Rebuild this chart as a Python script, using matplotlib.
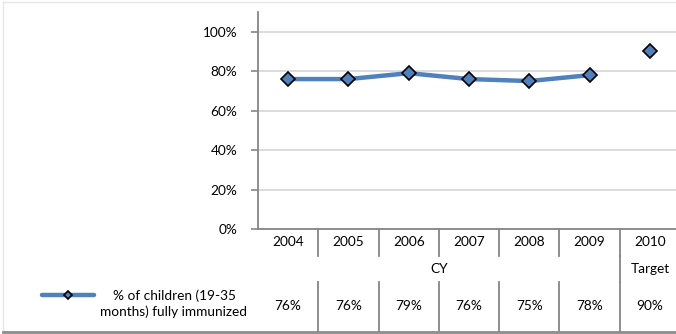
import matplotlib.pyplot as plt
import numpy as np

years = ["2004", "2005", "2006", "2007", "2008", "2009", "2010"]
groups = ["CY", "Target"]
values = [76, 76, 79, 76, 75, 78, 90]
value_labels = ["76%", "76%", "79%", "76%", "75%", "78%", "90%"]
series_name = "% of children (19-35\nmonths) fully immunized"
yticks = [0, 20, 40, 60, 80, 100]

blue = "#4F81BD"
grid_c = "#D9D9D9"
axis_c = "#868686"
plt.rcParams['font.family'] = ['Lato', 'DejaVu Sans']
fs = 9.8

W, H = 676, 334
fig = plt.figure(figsize=(W / 100, H / 100), dpi=100)
x0, ytop, ybot, cw = 258, 12, 229, 60.3
ax = fig.add_axes([x0 / W, 1 - ybot / H, 7 * cw / W, (ybot - ytop) / H])

x = np.arange(len(years))
v = np.array(values, dtype=float)
ax.plot(x[:6], v[:6], color=blue, lw=3.2, zorder=3, solid_capstyle='butt')
ax.plot(x, v, ls='none', marker='D', ms=7.5, mfc=blue, mec='black', mew=1.2, zorder=4)

ax.set_xlim(-0.5, 6.5)
ax.set_ylim(0, 110)
ax.set_yticks(yticks)
ax.set_yticklabels([f"{t}%" for t in yticks], fontsize=fs, color='black')
ax.yaxis.grid(True, color=grid_c, lw=1.3)
ax.set_axisbelow(True)
ax.tick_params(axis='y', length=5, color=axis_c, width=1.2, pad=10)
ax.set_xticks([])
for s in ['top', 'right']:
    ax.spines[s].set_visible(False)
ax.spines['left'].set_color(axis_c)
ax.spines['bottom'].set_color(axis_c)
ax.spines['left'].set_linewidth(1.3)
ax.spines['bottom'].set_linewidth(1.3)


def fy(py):
    # pixel row -> axes fraction
    return (ybot - py) / (ybot - ytop)


tr = ax.get_xaxis_transform()
kw = dict(color=axis_c, lw=1.3, clip_on=False, transform=tr)
for i in range(6):
    ax.plot([i + 0.5, i + 0.5], [fy(ybot), fy(256)], **kw)
    ax.plot([i + 0.5, i + 0.5], [fy(282), fy(331)], **kw)
ax.plot([5.5, 5.5], [fy(256), fy(282)], **kw)

for i, yr in enumerate(years):
    ax.text(i, fy(242), yr, ha='center', va='center', fontsize=fs, transform=tr)
    ax.text(i, fy(306), value_labels[i], ha='center', va='center', fontsize=fs, transform=tr)
ax.text(2.5, fy(269), groups[0], ha='center', va='center', fontsize=fs, transform=tr)
ax.text(6, fy(269), groups[1], ha='center', va='center', fontsize=fs, transform=tr)

# legend key in the data table
fig.add_artist(plt.Line2D([42 / W, 94 / W], [1 - 295 / H] * 2, color=blue, lw=3.2,
                          solid_capstyle='round'))
fig.add_artist(plt.Line2D([68 / W], [1 - 295 / H], marker='D', ms=4.5, mfc=blue,
                          mec='black', mew=1.2))
fig.text(174 / W, 1 - 304 / H, series_name, ha='center', va='center', fontsize=fs,
         linespacing=1.3)

# chart frame
fig.add_artist(plt.Line2D([3 / W, 1], [1 - 1.5 / H] * 2, color='#E6E6E6', lw=1))
fig.add_artist(plt.Line2D([3 / W, 3 / W], [1 - 1.5 / H, 1 - 331 / H], color='#E6E6E6', lw=1))
fig.add_artist(plt.Line2D([3 / W, 1], [1 - 331.5 / H] * 2, color='#8C8C8C', lw=2))

fig.savefig("out.png", dpi=100)
